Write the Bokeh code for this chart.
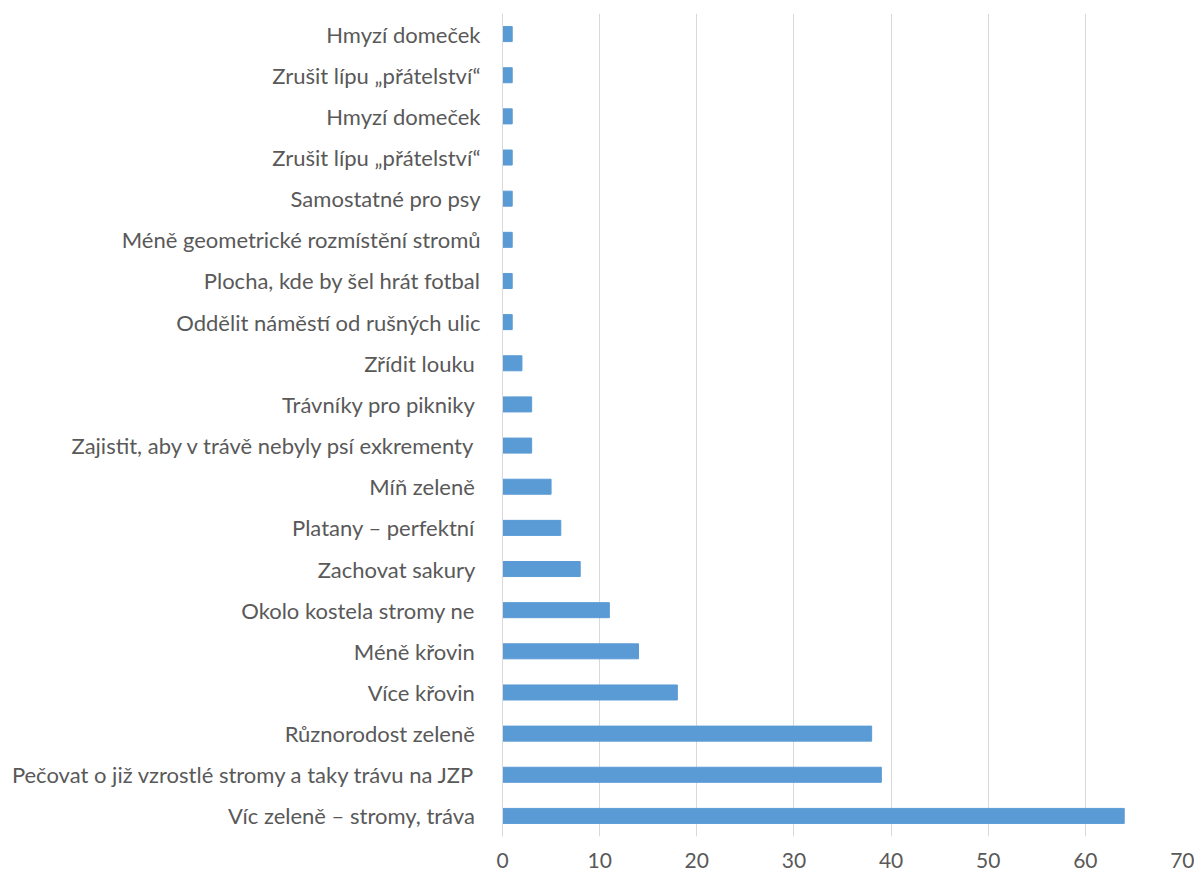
from bokeh.plotting import figure
from bokeh.models import Range1d, FixedTicker
from bokeh.embed import file_html
from bokeh.resources import INLINE

labels = [
    "Hmyzí domeček",
    "Zrušit lípu „přátelství“",
    "Hmyzí domeček",
    "Zrušit lípu „přátelství“",
    "Samostatné pro psy",
    "Méně geometrické rozmístění stromů",
    "Plocha, kde by šel hrát fotbal",
    "Oddělit náměstí od rušných ulic",
    "Zřídit louku\u00a0",
    "Trávníky pro pikniky\u00a0",
    "Zajistit, aby v trávě nebyly psí exkrementy\u00a0",
    "Míň zeleně\u00a0",
    "Platany – perfektní\u00a0",
    "Zachovat sakury\u00a0",
    "Okolo kostela stromy ne\u00a0",
    "Méně křovin\u00a0",
    "Více křovin\u00a0",
    "Různorodost zeleně\u00a0",
    "Pečovat o již vzrostlé stromy a taky trávu na JZP\u00a0",
    "Víc zeleně – stromy, tráva\u00a0",
]
values = [1, 1, 1, 1, 1, 1, 1, 1, 2, 3, 3, 5, 6, 8, 11, 14, 18, 38, 39, 64]
x_ticks = [0, 10, 20, 30, 40, 50, 60, 70]

n = len(labels)
positions = list(range(n))

p = figure(width=1194, height=874, output_backend="svg", toolbar_location=None,
           x_range=Range1d(0, 70), y_range=Range1d(n - 0.5, -0.5),
           min_border_left=502, min_border_right=12, min_border_top=13, min_border_bottom=38)

p.hbar(y=positions, right=values, left=0, height=0.365, color="#5b9bd5")

p.outline_line_color = None
p.ygrid.grid_line_color = None
p.xgrid.grid_line_color = "#d9d9d9"
p.xgrid.grid_line_width = 1
p.xaxis.ticker = FixedTicker(ticks=x_ticks)
p.xaxis.axis_line_color = None
p.xaxis.major_tick_line_color = None
p.xaxis.minor_tick_line_color = None
p.xaxis.major_tick_out = 0
p.xaxis.major_label_standoff = 16
p.xaxis.major_label_text_font = "Lato"
p.xaxis.major_label_text_font_size = "21px"
p.xaxis.major_label_text_color = "#595959"

p.yaxis.ticker = FixedTicker(ticks=positions)
p.yaxis.major_label_overrides = {i: lab for i, lab in enumerate(labels)}
p.yaxis.axis_line_color = "#d9d9d9"
p.yaxis.major_tick_line_color = None
p.yaxis.minor_tick_line_color = None
p.yaxis.major_tick_out = 0
p.yaxis.major_label_standoff = 22
p.yaxis.major_label_text_font = "Lato"
p.yaxis.major_label_text_font_size = "22px"
p.yaxis.major_label_text_color = "#595959"

open("out.html", "w").write(file_html(p, INLINE))
